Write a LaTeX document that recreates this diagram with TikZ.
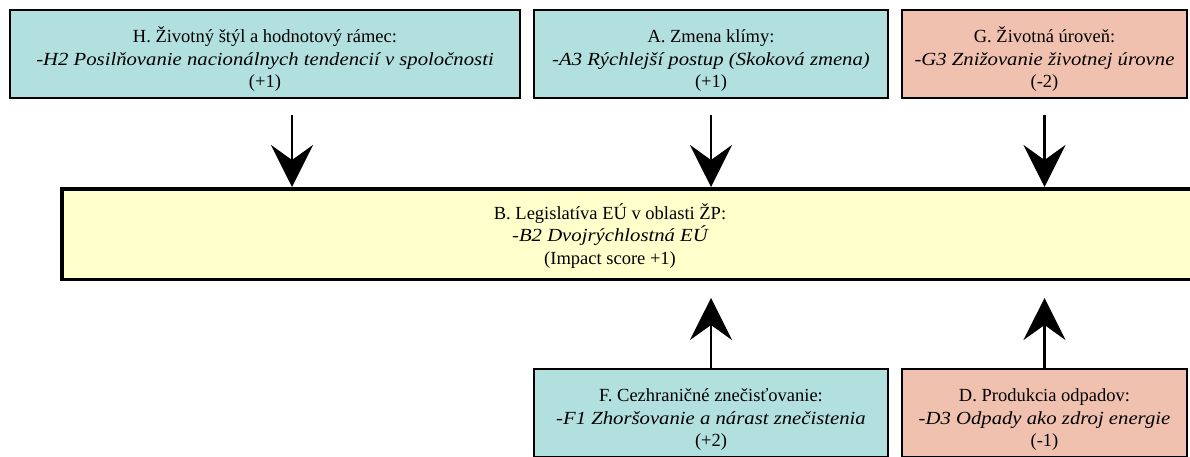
\documentclass[tikz,border=0pt]{standalone}
\usepackage{fontspec}
\setmainfont{Liberation Serif}
\usepackage{graphicx}
\usetikzlibrary{arrows.meta, positioning, calc}
\definecolor{myteal}{RGB}{178,224,223}
\definecolor{mysalmon}{RGB}{241,193,176}
\definecolor{myyellow}{RGB}{255,255,204}
\newcommand{\scenline}[1]{\scalebox{1.12}[1]{\itshape #1}}
\newcommand{\toppad}{\rule{0pt}{26pt}}

\begin{document}
\begin{tikzpicture}[x=1pt,y=-1pt,
    factor/.style={draw,line width=2.8pt,minimum height=88pt,inner sep=0pt,align=center,font=\fontsize{18.5}{22.5}\selectfont},
    flow/.style={line width=2.6pt,-{Stealth[length=42pt,width=42pt,inset=15pt]}}]
    \useasboundingbox (0,0) rectangle (1190,457);
    \clip (0,0) rectangle (1190,457);

    % top row
    \node[factor,fill=myteal,minimum width=510pt] (hbox) at (265,54) {\toppad H. Životný štýl a hodnotový rámec:\\ \scenline{-H2 Posilňovanie nacionálnych tendencií v spoločnosti}\\ (+1)};
    \node[factor,fill=myteal,minimum width=354pt] (abox) at (711,54) {\toppad A. Zmena klímy:\\ \scenline{-A3 Rýchlejší postup (Skoková zmena)}\\ (+1)};
    \node[factor,fill=mysalmon,minimum width=285pt] (gbox) at (1044.5,54) {\toppad G. Životná úroveň:\\ \scenline{-G3 Znižovanie životnej úrovne}\\ (-2)};

    % central box (runs off the right edge)
    \node[draw,line width=3.5pt,fill=myyellow,minimum width=1148pt,minimum height=90.5pt] (legis) at (636,234) {};
    \node[align=center,font=\fontsize{18.5}{22.5}\selectfont] (legistext) at (610,236) {B. Legislatíva EÚ v oblasti ŽP:\\ \scenline{-B2 Dvojrýchlostná EÚ}\\ (Impact score +1)};

    % bottom row
    \node[factor,fill=myteal,minimum width=354pt] (fbox) at (711,413) {\toppad F. Cezhraničné znečisťovanie:\\ \scenline{-F1 Zhoršovanie a nárast znečistenia}\\ (+2)};
    \node[factor,fill=mysalmon,minimum width=285pt] (dbox) at (1044.5,413) {\toppad D. Produkcia odpadov:\\ \scenline{-D3 Odpady ako zdroj energie}\\ (-1)};

    % arrows into B
    \coordinate (harrow) at ([xshift=27pt]hbox.south);
    \path (harrow) ++(0,16) coordinate (hstart);
    \path (abox.south) ++(0,16) coordinate (astart);
    \path (gbox.south) ++(0,16) coordinate (gstart);
    \draw[flow] (hstart) -- (harrow |- legis.north);
    \draw[flow] (astart) -- (abox.south |- legis.north);
    \draw[flow] (gstart) -- (gbox.south |- legis.north);

    \path (fbox.north |- legis.south) ++(0,17) coordinate (ftip);
    \path (dbox.north |- legis.south) ++(0,17) coordinate (dtip);
    \draw[flow] (fbox.north) -- (ftip);
    \draw[flow] (dbox.north) -- (dtip);
\end{tikzpicture}
\end{document}
